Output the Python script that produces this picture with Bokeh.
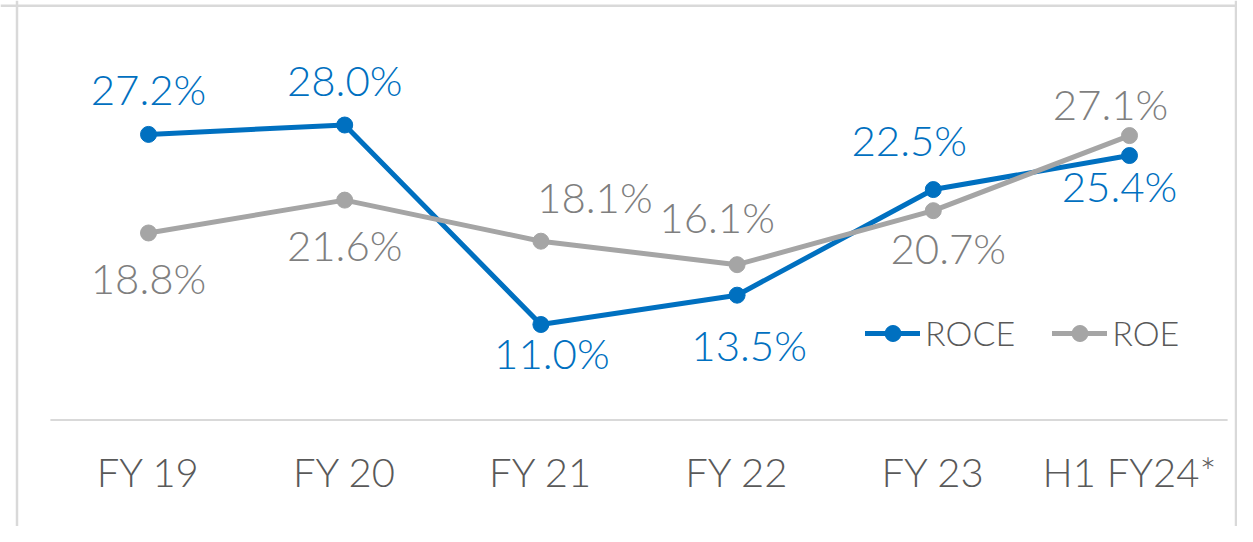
from bokeh.plotting import figure
from bokeh.models import ColumnDataSource, Range1d, Span, Legend, LegendItem
from bokeh.core.properties import value
from bokeh.embed import file_html
from bokeh.resources import INLINE

# ---- data ----
categories = ["FY 19", "FY 20", "FY 21", "FY 22", "FY 23", "H1 FY24*"]
roce = [27.2, 28.0, 11.0, 13.5, 22.5, 25.4]
roe = [18.8, 21.6, 18.1, 16.1, 20.7, 27.1]
roce_labels = ["27.2%", "28.0%", "11.0%", "13.5%", "22.5%", "25.4%"]
roe_labels = ["18.8%", "21.6%", "18.1%", "16.1%", "20.7%", "27.1%"]

# ---- label placement (screen px, x right / y down, relative to point) ----
roce_dx = [0, 0, 11, 12, -24, -10]
roce_dy = [-45, -45, 28, 50, -50, 30]
roe_dx = [0, 0, 54, -20, 15, -19]
roe_dy = [45, 45, -44, -48, 37, -32]

# ---- styles ----
BLUE = "#0070C0"
GREY = "#A5A5A5"
GREY_TXT = "#7F7F7F"
AX_TXT = "#595959"
FRAME = "#D9D9D9"
FONT = "'Lato Light', Lato"

W, H = 1237, 526
X0, XSTEP = 148.0, 196.2          # screen px of first category, spacing
Y0, YSCALE = 453.1, 11.735        # screen px of value 0, px per unit

x_start = -X0 / XSTEP
x_end = (W - X0) / XSTEP
y_start = (Y0 - H) / YSCALE
y_end = Y0 / YSCALE

def px_x(sx):
    return (sx - X0) / XSTEP

def px_y(sy):
    return (Y0 - sy) / YSCALE

p = figure(width=W, height=H, output_backend="svg", toolbar_location=None,
           x_range=Range1d(x_start, x_end), y_range=Range1d(y_start, y_end),
           min_border=0, x_axis_type=None, y_axis_type=None)
p.grid.visible = False
p.outline_line_color = None
p.background_fill_color = "white"
p.border_fill_color = "white"

# frame border (left, top, right)
for loc, dim in [(px_x(16.5), "height"), (px_x(1235.5), "height"), (px_y(5.2), "width")]:
    p.add_layout(Span(location=loc, dimension=dim, line_color=FRAME, line_width=2.5))

xs = list(range(len(categories)))
base_y = px_y(419.5)

# baseline
p.segment(x0=[-0.5], y0=[base_y], x1=[len(categories) - 0.5], y1=[base_y],
          line_color=FRAME, line_width=2)

# category labels
cat_src = ColumnDataSource(dict(x=xs, y=[base_y] * len(xs), t=categories))
p.text(x="x", y="y", text="t", source=cat_src, y_offset=52,
       text_font=value(FONT), text_font_size=value("40px"), text_color=AX_TXT,
       text_align="center", text_baseline="alphabetic")

src1 = ColumnDataSource(dict(x=xs, y=roce, t=roce_labels, dx=roce_dx, dy=roce_dy))
src2 = ColumnDataSource(dict(x=xs, y=roe, t=roe_labels, dx=roe_dx, dy=roe_dy))

l1 = p.line("x", "y", source=src1, line_color=BLUE, line_width=5, line_cap="round", line_join="round")
c1 = p.scatter("x", "y", source=src1, marker="circle", size=16, fill_color=BLUE, line_color=BLUE)
l2 = p.line("x", "y", source=src2, line_color=GREY, line_width=5, line_cap="round", line_join="round")
c2 = p.scatter("x", "y", source=src2, marker="circle", size=16, fill_color=GREY, line_color=GREY)

p.text(x="x", y="y", text="t", source=src1, x_offset="dx", y_offset="dy",
       text_font=value(FONT), text_font_size=value("42px"), text_color=BLUE,
       text_align="center", text_baseline="alphabetic")
p.text(x="x", y="y", text="t", source=src2, x_offset="dx", y_offset="dy",
       text_font=value(FONT), text_font_size=value("42px"), text_color=GREY_TXT,
       text_align="center", text_baseline="alphabetic")

legend = Legend(items=[LegendItem(label="ROCE", renderers=[l1, c1]),
                       LegendItem(label="ROE", renderers=[l2, c2])],
                location=(865, 173), orientation="horizontal",
                glyph_width=55, glyph_height=40, label_height=40, label_standoff=5,
                spacing=37, padding=0, margin=0,
                border_line_color=None, background_fill_alpha=0,
                label_text_font=FONT, label_text_font_size="34px",
                label_text_color=AX_TXT)
p.add_layout(legend)

open("out.html", "w").write(file_html(p, INLINE))
